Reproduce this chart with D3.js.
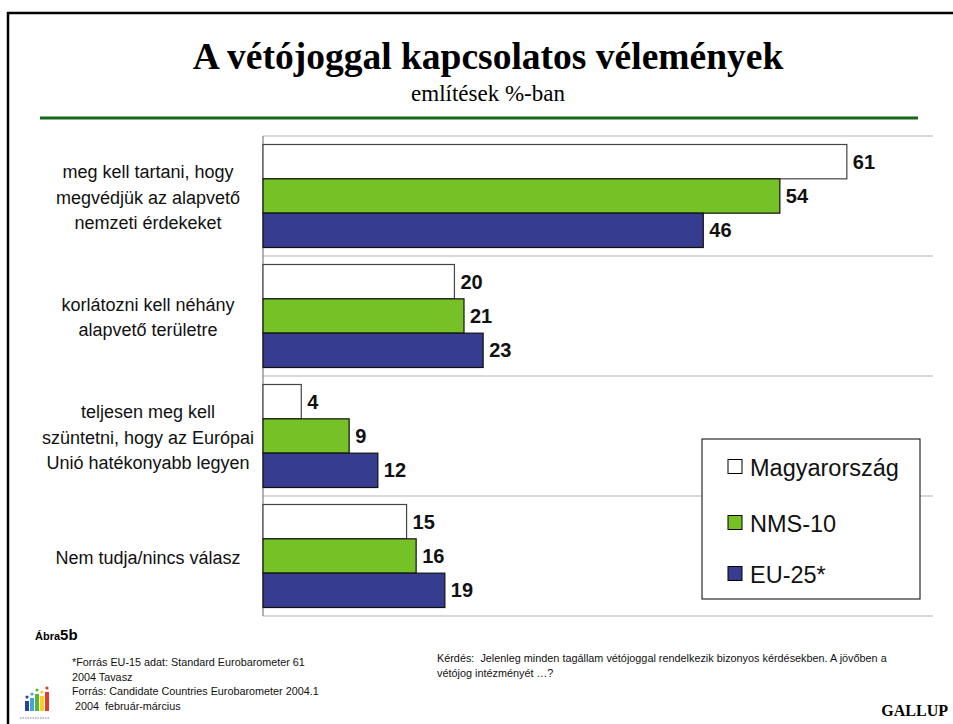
<!DOCTYPE html>
<html>
<head>
<meta charset="utf-8">
<script src="https://cdnjs.cloudflare.com/ajax/libs/d3/7.8.5/d3.min.js"></script>
<style>
  body { margin: 0; background: #fff; }
  svg { display: block; }
</style>
</head>
<body>
<script>
// chart data
const categories = [
  ['meg kell tartani, hogy', 'megvédjük az alapvető', 'nemzeti érdekeket'],
  ['korlátozni kell néhány', 'alapvető területre'],
  ['teljesen meg kell', 'szüntetni, hogy az Európai', 'Unió hatékonyabb legyen'],
  ['Nem tudja/nincs válasz']
];
const seriesNames = ['Magyarország', 'NMS-10', 'EU-25*'];
const seriesColors = ['#ffffff', '#76c125', '#363c8f'];
const magyar = [61, 20, 4, 15];
const nms10 = [54, 21, 9, 16];
const eu25 = [46, 23, 12, 19];
const allSeries = [magyar, nms10, eu25];

const width = 953, height = 724;

const svg = d3.select('body')
  .append('svg')
  .attr('width', width)
  .attr('height', height);

// frame
svg.append('line')
  .attr('x1', 7).attr('x2', width)
  .attr('y1', 13).attr('y2', 13)
  .attr('stroke', '#000').attr('stroke-width', 2.5);
svg.append('line')
  .attr('x1', 8).attr('x2', 8)
  .attr('y1', 12).attr('y2', height)
  .attr('stroke', '#000').attr('stroke-width', 2.5);

// title block
svg.append('text')
  .attr('x', 488).attr('y', 69)
  .attr('text-anchor', 'middle')
  .style('font-family', '"Liberation Serif", "Times New Roman", serif')
  .style('font-weight', 'bold')
  .style('font-size', '37.5px')
  .text('A vétójoggal kapcsolatos vélemények');

svg.append('text')
  .attr('x', 488).attr('y', 101)
  .attr('text-anchor', 'middle')
  .style('font-family', '"Liberation Serif", "Times New Roman", serif')
  .style('font-size', '23px')
  .text('említések %-ban');

svg.append('line')
  .attr('x1', 40).attr('x2', 918)
  .attr('y1', 118).attr('y2', 118)
  .attr('stroke', '#17661a').attr('stroke-width', 3);

// scales
const x = d3.scaleLinear().domain([0, 70]).range([263, 933]);
const y = d3.scaleBand().domain(d3.range(categories.length)).range([136, 616]);
const yInner = d3.scaleBand().domain(d3.range(seriesNames.length)).range([8.5, y.bandwidth() - 8.5]);

// gridlines at band edges
const edges = d3.range(categories.length + 1).map(i => 136 + i * y.bandwidth());
svg.selectAll('.grid')
  .data(edges)
  .enter()
  .append('line')
  .attr('class', 'grid')
  .attr('x1', x(0)).attr('x2', x(70))
  .attr('y1', d => d).attr('y2', d => d)
  .attr('stroke', '#cccccc').attr('stroke-width', 1.5);

svg.append('line')
  .attr('x1', x(0)).attr('x2', x(0))
  .attr('y1', 136).attr('y2', 616)
  .attr('stroke', '#999').attr('stroke-width', 1.5);

// category labels
categories.forEach(function (lines, i) {
  const cy = y(i) + y.bandwidth() / 2 + 1;
  const t = svg.append('text')
    .attr('text-anchor', 'middle')
    .style('font-family', '"Liberation Sans", Arial, sans-serif')
    .style('font-size', '18px')
    .style('fill', '#111');
  lines.forEach(function (line, j) {
    t.append('tspan')
      .attr('x', 148)
      .attr('y', cy + (j - (lines.length - 1) / 2) * 25.5 + 6.5)
      .text(line);
  });
});

// bars
const barData = [];
allSeries.forEach(function (vals, s) {
  vals.forEach(function (v, c) {
    barData.push({ s: s, c: c, v: v });
  });
});

svg.selectAll('.bar')
  .data(barData)
  .enter()
  .append('rect')
  .attr('class', 'bar')
  .attr('x', x(0))
  .attr('y', d => y(d.c) + yInner(d.s))
  .attr('width', d => x(d.v) - x(0))
  .attr('height', yInner.bandwidth())
  .attr('fill', d => seriesColors[d.s])
  .attr('stroke', d => d.s === 0 ? '#444' : '#111')
  .attr('stroke-width', 1.2);

svg.selectAll('.val')
  .data(barData)
  .enter()
  .append('text')
  .attr('class', 'val')
  .attr('x', d => x(d.v) + 6)
  .attr('y', d => y(d.c) + yInner(d.s) + yInner.bandwidth() / 2 + 7)
  .style('font-family', '"Liberation Sans", Arial, sans-serif')
  .style('font-weight', 'bold')
  .style('font-size', '20px')
  .style('fill', '#111')
  .text(d => d.v);

// legend
const legend = svg.append('g');
legend.append('rect')
  .attr('x', 702).attr('y', 439)
  .attr('width', 218).attr('height', 160)
  .attr('fill', '#fff')
  .attr('stroke', '#000').attr('stroke-width', 1);

const legendRows = [467, 523, 574];
seriesNames.forEach(function (name, i) {
  legend.append('rect')
    .attr('x', 728).attr('y', legendRows[i] - 7.5)
    .attr('width', 14).attr('height', 14)
    .attr('fill', seriesColors[i])
    .attr('stroke', '#000').attr('stroke-width', 1);
  legend.append('text')
    .attr('x', 750).attr('y', legendRows[i] + 8.5)
    .style('font-family', '"Liberation Sans", Arial, sans-serif')
    .style('font-size', '23.5px')
    .style('fill', '#111')
    .text(name);
});

// footer
const foot = svg.append('text')
  .attr('x', 35).attr('y', 640)
  .style('font-family', '"Liberation Sans", Arial, sans-serif')
  .style('font-weight', 'bold');
foot.append('tspan').style('font-size', '11px').text('Ábra');
foot.append('tspan').style('font-size', '15px').text('5b');

const sources = [
  '*Forrás EU-15 adat: Standard Eurobarometer 61',
  '2004 Tavasz',
  'Forrás: Candidate Countries Eurobarometer 2004.1',
  ' 2004  február-március'
];
svg.selectAll('.src')
  .data(sources)
  .enter()
  .append('text')
  .attr('class', 'src')
  .attr('x', 72)
  .attr('y', (d, i) => 666 + i * 14.5)
  .style('white-space', 'pre')
  .style('font-family', '"Liberation Sans", Arial, sans-serif')
  .style('font-size', '10.8px')
  .style('fill', '#111')
  .text(d => d);

const question = [
  'Kérdés:  Jelenleg minden tagállam vétójoggal rendelkezik bizonyos kérdésekben. A jövőben a',
  'vétójog intézményét …?'
];
svg.selectAll('.q')
  .data(question)
  .enter()
  .append('text')
  .attr('class', 'q')
  .attr('x', 437)
  .attr('y', (d, i) => 662 + i * 15)
  .style('white-space', 'pre')
  .style('font-family', '"Liberation Sans", Arial, sans-serif')
  .style('font-size', '10.85px')
  .style('fill', '#111')
  .text(d => d);

svg.append('text')
  .attr('x', 948).attr('y', 716)
  .attr('text-anchor', 'end')
  .style('font-family', '"Liberation Serif", "Times New Roman", serif')
  .style('font-weight', 'bold')
  .style('font-size', '16px')
  .text('GALLUP');

// small eurobarometer logo
const logoBars = [
  { h: 10, c: '#2f3f9a' },
  { h: 13, c: '#3fa6dc' },
  { h: 17, c: '#5cb531' },
  { h: 15, c: '#f2d21b' },
  { h: 19, c: '#e23a2e' }
];
const logo = svg.append('g');
logo.selectAll('rect')
  .data(logoBars)
  .enter()
  .append('rect')
  .attr('x', (d, i) => 25 + i * 5)
  .attr('y', d => 711 - d.h)
  .attr('width', 4)
  .attr('height', d => d.h)
  .attr('fill', d => d.c);
logo.selectAll('circle')
  .data(logoBars)
  .enter()
  .append('circle')
  .attr('cx', (d, i) => 27 + i * 5)
  .attr('cy', d => 707 - d.h)
  .attr('r', 1.6)
  .attr('fill', d => d.c);
logo.append('line')
  .attr('x1', 20).attr('x2', 50)
  .attr('y1', 718).attr('y2', 718)
  .attr('stroke', '#aab')
  .attr('stroke-width', 1.5)
  .attr('stroke-dasharray', '1.5,1');
</script>
</body>
</html>
